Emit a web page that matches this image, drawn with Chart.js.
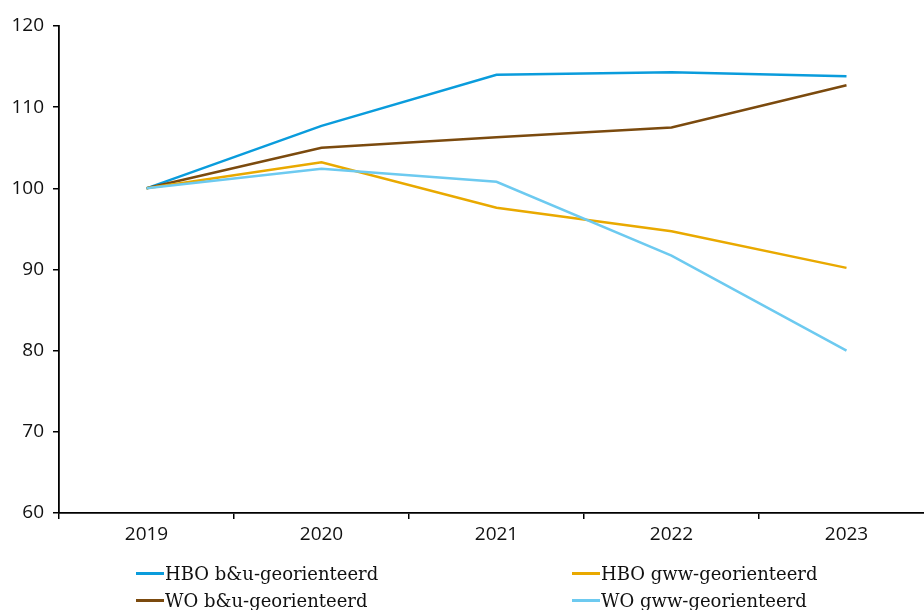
<!DOCTYPE html>
<html>
<head>
<meta charset="utf-8">
<script src="https://cdn.jsdelivr.net/npm/chart.js@4"></script>
<style>
html, body { margin: 0; padding: 0; background: #fff; overflow: hidden; width: 924px; height: 610px; }
#wrap { position: absolute; left: 0; top: 0; width: 934px; height: 610px; }
#legend { position: absolute; left: 0; top: 0; width: 924px; height: 610px; pointer-events: none;
  font-family: "DejaVu Serif", "Liberation Serif", serif; font-size: 18px; color: #111; }
.item { position: absolute; display: flex; align-items: center; white-space: nowrap; }
.swatch { width: 28px; height: 3px; margin-right: 1px; }
</style>
</head>
<body>
<div id="wrap"><canvas id="myChart"></canvas></div>
<div id="legend"></div>
<script>
// jaren
var years = ["2019", "2020", "2021", "2022", "2023"];

// index 2019 = 100
var hbo_bu = [100, 107.7, 114.0, 114.3, 113.8];
var hbo_gww = [100, 103.2, 97.6, 94.7, 90.2];
var wo_bu = [100, 105.0, 106.3, 107.5, 112.7];
var wo_gww = [100, 102.4, 100.8, 91.7, 80.0];

var names = ["HBO b&u-georienteerd", "HBO gww-georienteerd", "WO b&u-georienteerd", "WO gww-georienteerd"];
var colors = ["#0a9cdc", "#e9a900", "#7b4a0e", "#6dcaf0"];
var series = [hbo_bu, hbo_gww, wo_bu, wo_gww];

var myChart = null;

function drawChart() {
	// volgorde van tekenen: lichtblauw onderaan
	var order = [3, 1, 2, 0];
	var datasets = order.map(i => ({
		label: names[i],
		data: series[i],
		borderColor: colors[i],
		backgroundColor: colors[i],
		borderWidth: 2.5,
		pointRadius: 0,
		tension: 0,
		fill: false
	}));

	const ctx = document.getElementById('myChart').getContext('2d');
	myChart = new Chart(ctx, {
		type: 'line',
		data: { labels: years, datasets: datasets },
		options: {
			animation: false,
			responsive: true,
			maintainAspectRatio: false,
			layout: { padding: { top: 26, right: 0, bottom: 57, left: 0 } },
			plugins: { legend: { display: false }, tooltip: { enabled: false } },
			scales: {
				x: {
					offset: true,
					grid: { offset: true, drawOnChartArea: false, drawTicks: true, tickLength: 6, color: '#000', lineWidth: 1.5 },
					border: { display: true, color: '#000', width: 1.8 },
					ticks: { color: '#111', font: { family: "'Open Sans', sans-serif", size: 19 }, padding: 4, maxRotation: 0 },
					afterFit: function(scale) { scale.height = 40; }
				},
				y: {
					min: 60, max: 120,
					grid: { drawOnChartArea: false, drawTicks: true, tickLength: 6, color: '#000', lineWidth: 1.5 },
					border: { display: true, color: '#000', width: 1.8 },
					ticks: { stepSize: 10, color: '#111', font: { family: "'Open Sans', sans-serif", size: 19 }, padding: 9 },
					afterFit: function(scale) { scale.width = 59; }
				}
			}
		}
	});
}

// legenda in twee kolommen
var legend = document.getElementById("legend");
var pos = [[136, 573], [572, 573], [136, 600], [572, 600]];
names.forEach((n, i) => {
	let item = document.createElement("div");
	item.className = "item";
	item.style.left = pos[i][0] + "px";
	item.style.top = (pos[i][1] - 12) + "px";
	item.style.height = "24px";
	let sw = document.createElement("span");
	sw.className = "swatch";
	sw.style.background = colors[i];
	let t = document.createElement("span");
	t.innerText = n;
	item.appendChild(sw);
	item.appendChild(t);
	legend.appendChild(item);
});

// eerst het font laden, anders tekent canvas met een vervangend font
document.fonts.load("19px 'Open Sans'").then(drawChart, drawChart);
</script>
</body>
</html>
